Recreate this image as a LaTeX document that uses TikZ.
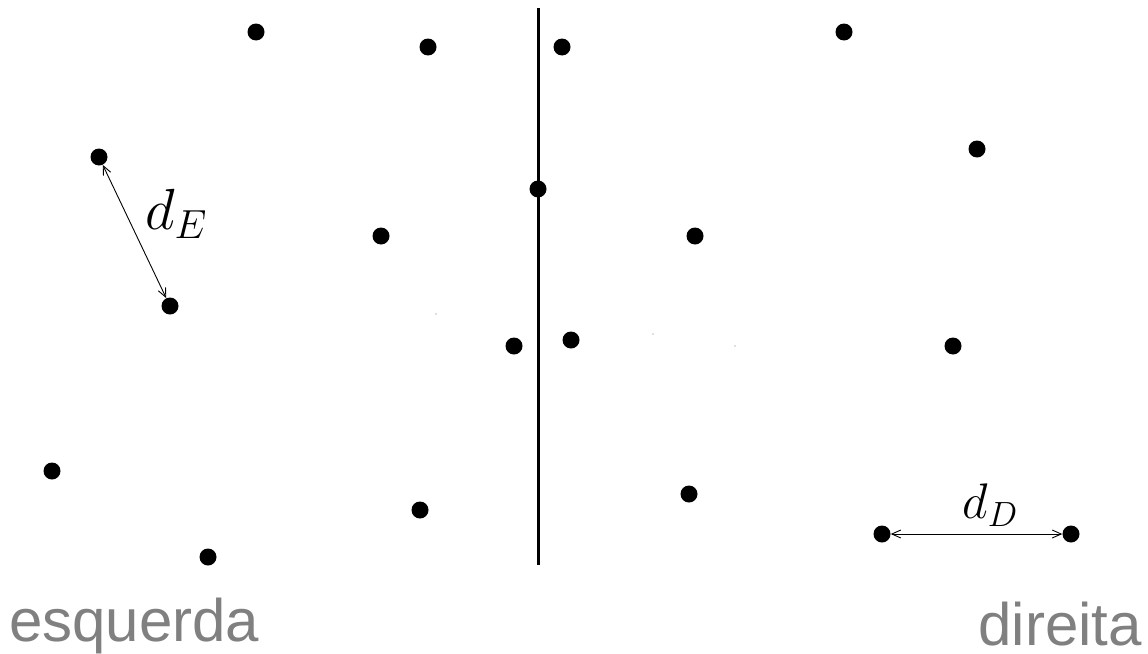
\RequirePackage{fix-cm}
\documentclass[tikz,border=0pt]{standalone}
\usepackage{fontspec}
\usepackage{tikz}
\usetikzlibrary{arrows.meta}
\newfontfamily\sidefont{Liberation Sans}

\begin{document}
\begin{tikzpicture}[x=1pt, y=-1pt,
  pt/.style={circle, fill=black, inner sep=0pt, minimum size=17pt},
  speck/.style={circle, fill=black!55, inner sep=0pt, minimum size=1.4pt},
  divider/.style={draw=black, line width=3pt},
  dist/.style={draw=black, line width=0.9pt, {Straight Barb[length=9pt,width=8pt]}-{Straight Barb[length=9pt,width=8pt]}},
  side/.style={font=\sidefont\fontsize{60}{63}\selectfont, text=black!50, inner sep=0pt}
]
\useasboundingbox (0,0) rectangle (1148,653);

% left half
\node[pt] (p1) at (256,32) {};
\node[pt] (p2) at (428,47) {};
\node[pt] (p5) at (99,157) {};
\node[pt] (p8) at (381,236) {};
\node[pt] (p10) at (170,306) {};
\node[pt] (p11) at (514,346) {};
\node[pt] (p14) at (52,471) {};
\node[pt] (p15) at (420,510) {};
\node[pt] (p17) at (208,557) {};
% on the line
\node[pt] (p7) at (538,189) {};
% right half
\node[pt] (p3) at (562,47) {};
\node[pt] (p4) at (844,32) {};
\node[pt] (p6) at (977,149) {};
\node[pt] (p9) at (695,236) {};
\node[pt] (p12) at (571,340) {};
\node[pt] (p13) at (953,346) {};
\node[pt] (p16) at (689,494) {};
\node[pt] (p18) at (882,534) {};
\node[pt] (p19) at (1071,534) {};

% stray marks
\node[speck] (s1) at (436,314) {};
\node[speck] (s2) at (653,334) {};
\node[speck] (s3) at (735,346) {};

% dividing line
\coordinate (top) at (538,8);
\coordinate (bot) at (538,565);
\draw[divider] (top) -- (bot);

% distances
\draw[dist] (p5) -- (p10);
\draw[dist] (p18) -- (p19);
\node[inner sep=0pt] (dE) at (176,214) {\fontsize{58}{60}\selectfont$d_E$};
\node[inner sep=0pt] (dD) at (990,505) {\fontsize{50}{52}\selectfont$d_D$};

% sides
\node[side, anchor=base west] (esq) at (9,641) {esquerda};
\node[side, anchor=base east] (dir) at (1142,645) {direita};

\end{tikzpicture}
\end{document}
